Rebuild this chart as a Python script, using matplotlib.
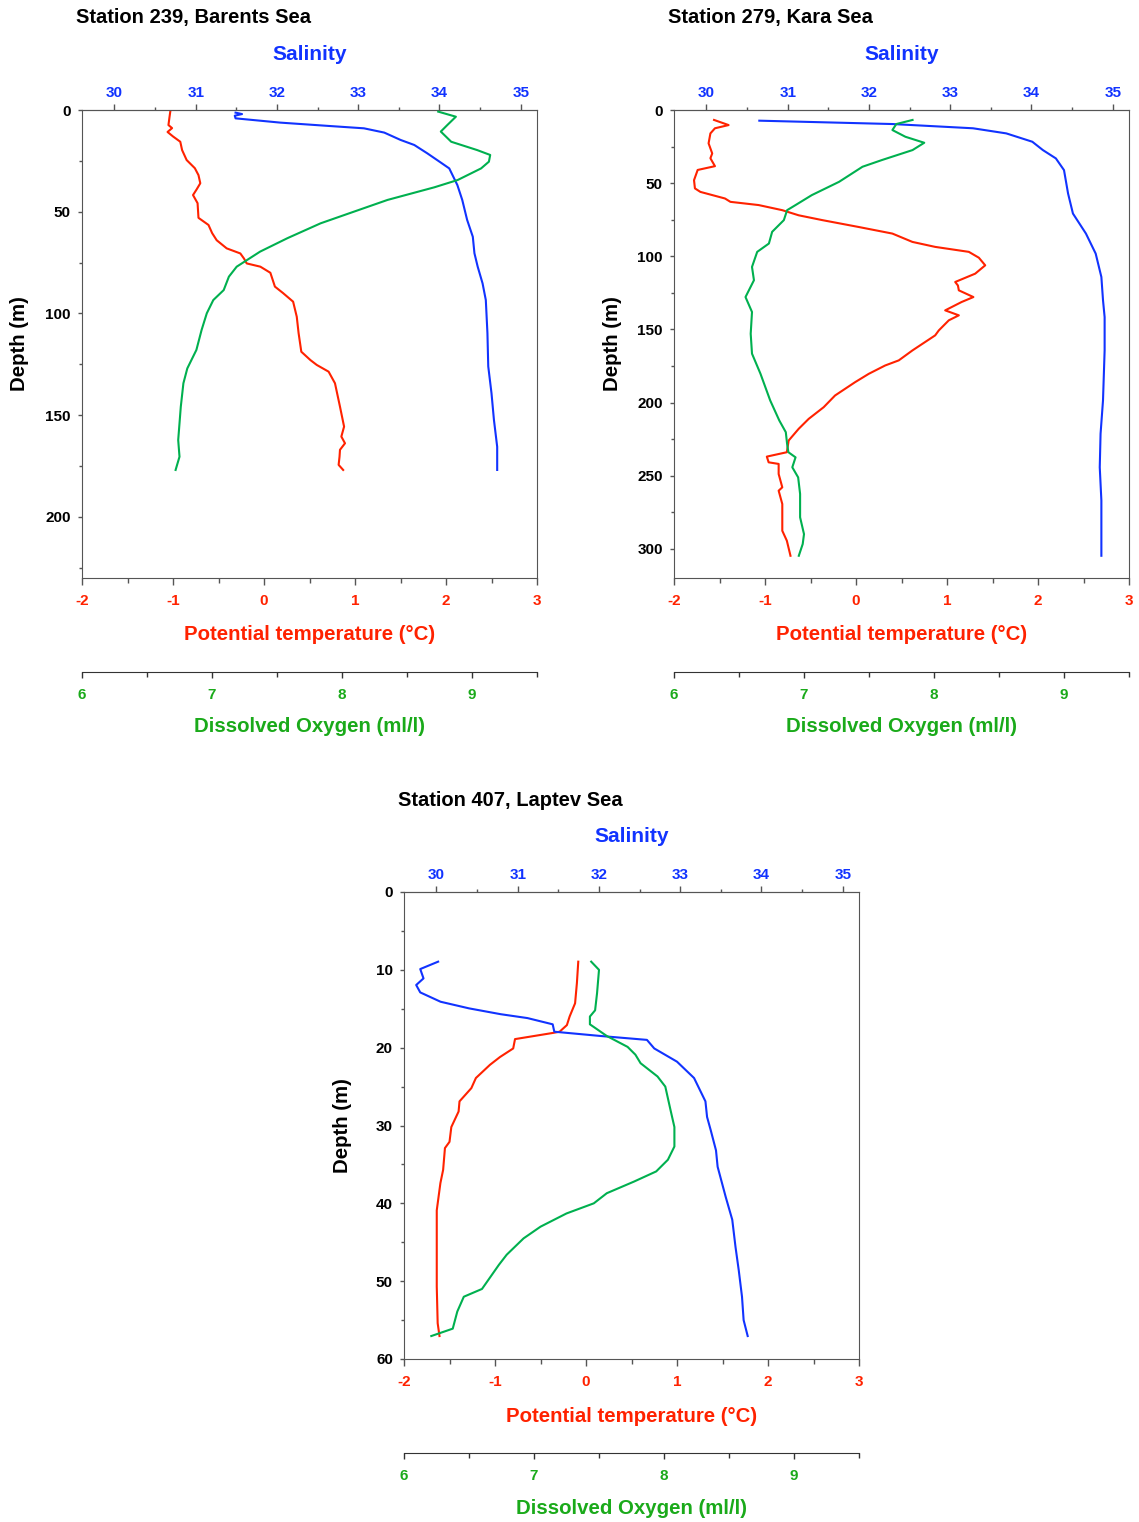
import matplotlib
matplotlib.use("Agg")
import matplotlib.pyplot as plt
from matplotlib.ticker import MultipleLocator

plt.rcParams['font.family'] = ['Liberation Sans', 'DejaVu Sans']
plt.rcParams['font.weight'] = 'bold'
plt.rcParams['axes.unicode_minus'] = False

# ---------------- Station 239, Barents Sea ----------------
b_temp_depth = [0.8, 4, 7.4, 8.9, 10.8, 13, 15.6, 19.7, 24.6, 28.6, 32, 36, 39, 41.8, 45.8, 53, 56.5, 60.5, 64, 68,
                70.5, 73, 75.4, 77, 80, 86.8, 90, 94.2, 101.6, 109.6, 118.8, 122.9, 125.3, 128.6, 134.3, 145.8,
                155.6, 160.5, 163.8, 167, 170.4, 174.4, 176.9]
b_temp = [-1.03, -1.04, -1.05, -1.01, -1.06, -1.0, -0.92, -0.90, -0.85, -0.76, -0.72, -0.70, -0.74, -0.78, -0.73,
          -0.72, -0.61, -0.57, -0.52, -0.41, -0.26, -0.22, -0.19, -0.04, 0.07, 0.12, 0.21, 0.32, 0.36, 0.38, 0.41,
          0.51, 0.58, 0.71, 0.78, 0.835, 0.88, 0.85, 0.89, 0.835, 0.83, 0.82, 0.87]
b_sal_depth = [1.3, 2, 2.8, 4.1, 6.2, 7.9, 9, 11.1, 14.7, 17.2, 21.3, 25.4, 28.7, 36.9, 44.2, 54, 62.3, 70.4, 77,
               85.2, 93.4, 109.7, 126, 139.2, 152.3, 165.5, 176.9]
b_sal = [31.49, 31.57, 31.48, 31.49, 32.04, 32.66, 33.07, 33.32, 33.52, 33.69, 33.85, 34.0, 34.12, 34.22, 34.28,
         34.34, 34.41, 34.43, 34.47, 34.53, 34.57, 34.59, 34.6, 34.64, 34.67, 34.71, 34.71]
b_oxy_depth = [0.8, 3.3, 7.4, 10.6, 15.6, 19.7, 22.1, 25.4, 28.7, 34.4, 38, 44.2, 50, 55.7, 63, 69.6, 77, 81.9,
               88.5, 93.4, 99.9, 108.1, 117.9, 127, 134.3, 145.8, 162.2, 170.4, 176.9]
b_oxy = [8.74, 8.876, 8.81, 8.76, 8.84, 9.04, 9.14, 9.13, 9.07, 8.89, 8.71, 8.35, 8.09, 7.835, 7.58, 7.37, 7.19,
         7.13, 7.09, 7.01, 6.96, 6.92, 6.88, 6.81, 6.78, 6.76, 6.74, 6.75, 6.72]

# ---------------- Station 279, Kara Sea ----------------
k_temp_depth = [6.8, 10.3, 12.5, 16, 22.8, 29.7, 33, 38.4, 41, 48, 53.6, 56, 60.5, 62.8, 65, 68.5, 72, 75.3, 80,
                84.5, 90.2, 93.6, 97, 101, 106.2, 111.9, 117.6, 120, 123.3, 127.9, 131.3, 137, 140.4, 143.8, 150.7,
                154.1, 164.4, 171.2, 174.7, 180.4, 186.1, 195.2, 203.2, 211.2, 218, 226, 234, 237, 240.9, 242,
                248.9, 258, 260.3, 269.4, 287.7, 294.5, 304.8]
k_temp = [-1.56, -1.40, -1.55, -1.60, -1.62, -1.58, -1.60, -1.55, -1.74, -1.78, -1.77, -1.71, -1.44, -1.38, -1.07,
          -0.81, -0.63, -0.37, 0.03, 0.40, 0.62, 0.87, 1.24, 1.35, 1.42, 1.31, 1.09, 1.12, 1.13, 1.29, 1.16, 0.98,
          1.13, 1.02, 0.91, 0.87, 0.62, 0.47, 0.32, 0.14, -0.01, -0.23, -0.355, -0.52, -0.63, -0.74, -0.76, -0.98,
          -0.96, -0.85, -0.85, -0.81, -0.85, -0.81, -0.81, -0.76, -0.72]
k_sal_depth = [7.3, 9.6, 12.5, 16, 21.7, 27.4, 33.1, 41.1, 57.1, 70.8, 84.5, 98.2, 114.2, 130, 141.6, 164.4, 198.6,
               221.4, 244.3, 267, 294.5, 304.8]
k_sal = [30.65, 32.29, 33.28, 33.69, 34.01, 34.14, 34.30, 34.40, 34.45, 34.51, 34.67, 34.79, 34.86, 34.88, 34.90,
         34.90, 34.88, 34.85, 34.84, 34.86, 34.86, 34.86]
k_oxy_depth = [6.8, 9.6, 13.7, 18.3, 22.4, 27.4, 34.2, 38.8, 49.1, 58.2, 65, 68.5, 75.3, 83.3, 91.3, 97, 107.3,
               116.4, 127.9, 138.1, 153, 166.6, 180.3, 198.6, 212.3, 220.3, 228.3, 234, 237.5, 244.3, 251.2, 262.5,
               278.5, 290, 296.8, 304.8]
k_oxy = [7.835, 7.71, 7.68, 7.78, 7.925, 7.835, 7.60, 7.45, 7.27, 7.06, 6.935, 6.87, 6.845, 6.755, 6.73, 6.64, 6.60,
         6.615, 6.55, 6.60, 6.59, 6.60, 6.665, 6.74, 6.81, 6.86, 6.87, 6.88, 6.935, 6.91, 6.955, 6.97, 6.97, 7.0,
         6.99, 6.96]

# ---------------- Station 407, Laptev Sea ----------------
l_temp_depth = [8.95, 11.7, 14.3, 16.0, 17.1, 17.95, 18.1, 18.9, 20.1, 21.2, 22.2, 23.9, 25.2, 26.9, 28.2, 30.2,
                32.1, 32.9, 35.7, 37.4, 40.9, 50.7, 55.4, 57.05]
l_temp = [-0.085, -0.10, -0.12, -0.18, -0.21, -0.29, -0.36, -0.78, -0.80, -0.945, -1.055, -1.21, -1.26, -1.39,
          -1.40, -1.48, -1.50, -1.55, -1.57, -1.60, -1.64, -1.64, -1.63, -1.61]
l_sal_depth = [8.95, 9.9, 11.1, 11.95, 12.9, 14.1, 14.95, 15.7, 16.2, 17.0, 17.95, 18.5, 19.0, 20.1, 21.8, 23.9,
               26.9, 28.9, 30.6, 33.2, 35.3, 39.2, 42.1, 45.6, 48.6, 52.0, 55, 57.05]
l_sal = [30.02, 29.80, 29.84, 29.75, 29.80, 30.05, 30.40, 30.79, 31.12, 31.43, 31.45, 32.02, 32.59, 32.68, 32.96,
         33.17, 33.31, 33.33, 33.375, 33.44, 33.46, 33.56, 33.64, 33.68, 33.72, 33.76, 33.78, 33.83]
l_oxy_depth = [8.95, 10.0, 13.0, 15.2, 16.0, 17.0, 18.5, 19.9, 20.9, 22.0, 23.7, 25.0, 28.0, 30.2, 32.7, 34.4,
               35.9, 37.2, 38.7, 40.0, 41.3, 43.0, 44.5, 46.6, 47.9, 51.0, 52.0, 53.9, 56.1, 57.05]
l_oxy = [7.44, 7.50, 7.485, 7.47, 7.43, 7.43, 7.56, 7.72, 7.78, 7.82, 7.95, 8.01, 8.05, 8.08, 8.08, 8.03, 7.94,
         7.77, 7.56, 7.46, 7.25, 7.05, 6.92, 6.79, 6.73, 6.60, 6.46, 6.41, 6.375, 6.21]

titles = ["Station 239, Barents Sea", "Station 279, Kara Sea", "Station 407, Laptev Sea"]
sal_ticks = [30, 31, 32, 33, 34, 35]
temp_ticks = [-2, -1, 0, 1, 2, 3]
oxy_ticks = [6, 7, 8, 9]

RED = '#ff2200'
BLUE = '#1133ff'
GREEN = '#00b04f'
GREEN_TXT = '#1aaa1a'
SPINE = '#555555'

W, H = 1139, 1522
fig = plt.figure(figsize=(W / 100, H / 100), dpi=100)


def panel(left, top, height, title, ymax, ymajor, yminor,
          td, tv, sd, sv, od, ov):
    ax = fig.add_axes([left / W, 1 - (top + height) / H, 455 / W, height / H])
    ax_s = ax.twiny()
    ax_o = ax.twiny()

    ax.plot(tv, td, color=RED, lw=1.5, zorder=3)
    ax_s.plot(sv, sd, color=BLUE, lw=1.5, zorder=3)
    ax_o.plot(ov, od, color=GREEN, lw=1.5, zorder=3)

    ax.set_ylim(ymax, 0)
    ax.yaxis.set_major_locator(MultipleLocator(ymajor))
    ax.yaxis.set_minor_locator(MultipleLocator(yminor))

    ax.set_xlim(-2, 3)
    ax.set_xticks(temp_ticks)
    ax.xaxis.set_minor_locator(MultipleLocator(0.5))
    ax_s.set_xlim(29.6, 35.2)
    ax_s.set_xticks(sal_ticks)
    ax_s.xaxis.set_minor_locator(MultipleLocator(0.5))
    ax_o.set_xlim(6, 9.5)
    ax_o.set_xticks(oxy_ticks)
    ax_o.xaxis.set_minor_locator(MultipleLocator(0.5))

    for s in ax.spines.values():
        s.set_color(SPINE)
    for s in ax_s.spines.values():
        s.set_visible(False)
    ax_s.spines['top'].set_visible(True)
    ax_s.spines['top'].set_color(SPINE)

    for s in ax_o.spines.values():
        s.set_visible(False)
    ax_o.spines['bottom'].set_visible(True)
    ax_o.spines['bottom'].set_position(('axes', -94 / height))
    ax_o.spines['bottom'].set_color('#333333')
    ax_o.xaxis.set_ticks_position('bottom')
    ax_o.xaxis.set_label_position('bottom')
    ax_o.patch.set_visible(False)
    ax_s.patch.set_visible(False)

    ax.tick_params(axis='x', which='major', length=5, width=1, color=SPINE, labelsize=11,
                   labelcolor=RED, pad=6.5)
    ax.tick_params(axis='x', which='minor', length=3.5, width=1, color=SPINE)
    ax.tick_params(axis='y', which='major', length=3, width=1, color=SPINE, labelsize=11,
                   labelcolor='black', pad=5)
    ax.tick_params(axis='y', which='minor', length=2.5, width=1, color=SPINE)
    ax_s.tick_params(axis='x', which='major', length=4.5, width=1, color=SPINE, labelsize=11,
                     labelcolor=BLUE, pad=3)
    ax_s.tick_params(axis='x', which='minor', length=2.5, width=1, color=SPINE)
    ax_o.tick_params(axis='x', which='major', length=4.5, width=1, color='#333333', labelsize=11,
                     labelcolor=GREEN_TXT, pad=7)
    ax_o.tick_params(axis='x', which='minor', length=3.5, width=1, color='#333333')

    cx = (left + 455 / 2) / W
    bottom = top + height
    fig.text((left - 6) / W, 1 - (top - 92) / H, title, fontsize=14.5, fontweight='bold',
             ha='left', va='center', color='black')
    fig.text(cx, 1 - (top - 56) / H, 'Salinity', fontsize=15, fontweight='bold',
             ha='center', va='center', color=BLUE)
    fig.text(cx, 1 - (bottom + 57) / H, 'Potential temperature (°C)', fontsize=14.7,
             fontweight='bold', ha='center', va='center', color=RED)
    fig.text(cx, 1 - (bottom + 149) / H, 'Dissolved Oxygen (ml/l)', fontsize=14.7,
             fontweight='bold', ha='center', va='center', color=GREEN_TXT)
    fig.text((left - 62) / W, 1 - (top + height / 2) / H, 'Depth (m)', fontsize=14.7,
             fontweight='bold', ha='center', va='center', rotation=90, color='black')
    return ax


panel(82, 110, 468, titles[0], 230, 50, 25, b_temp_depth, b_temp, b_sal_depth, b_sal, b_oxy_depth, b_oxy)
panel(674, 110, 468, titles[1], 320, 50, 25, k_temp_depth, k_temp, k_sal_depth, k_sal, k_oxy_depth, k_oxy)
panel(404, 892, 467, titles[2], 60, 10, 5, l_temp_depth, l_temp, l_sal_depth, l_sal, l_oxy_depth, l_oxy)

fig.savefig('out.png', dpi=100)
